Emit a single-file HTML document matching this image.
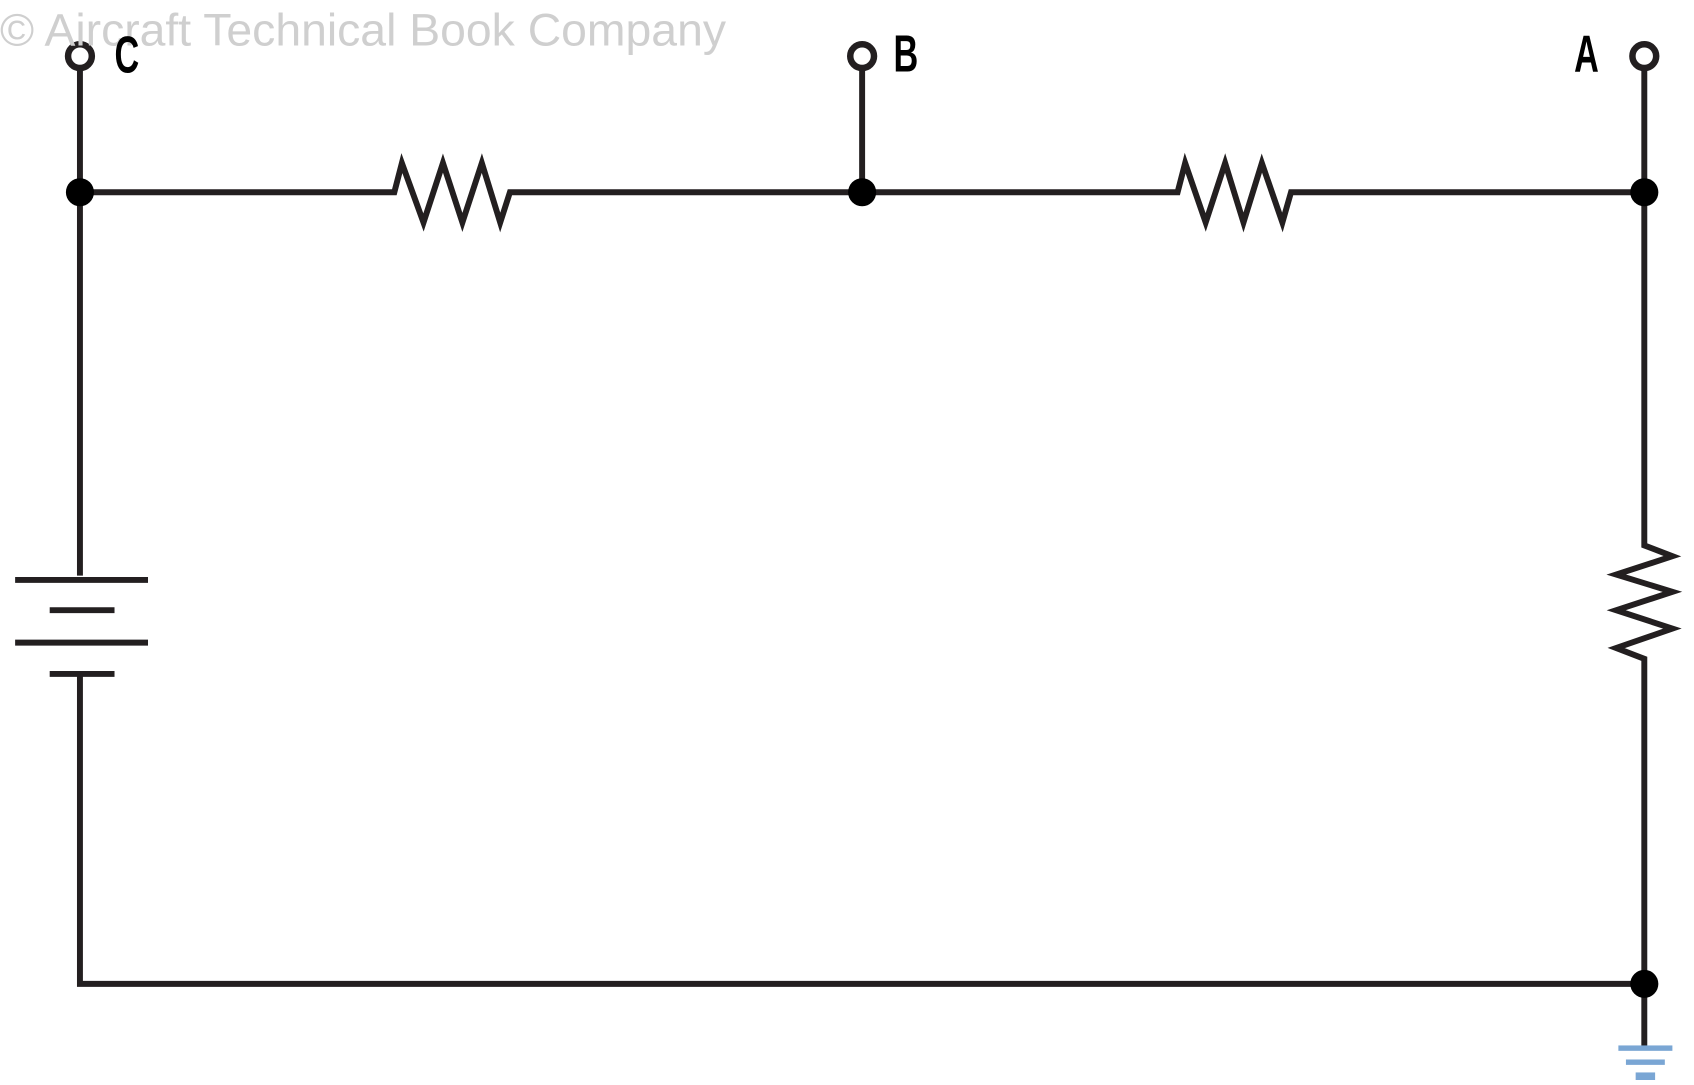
<!DOCTYPE html>
<html><head><style>html,body{margin:0;padding:0;background:#fff;overflow:hidden}</style></head>
<body>
<svg width="1694" height="1080" viewBox="0 0 1568 1000" preserveAspectRatio="none" xmlns="http://www.w3.org/2000/svg">
<g fill="none" stroke="#231f20" stroke-width="5.5" stroke-linejoin="miter" stroke-miterlimit="10">
<polyline points="74,60 74,533"/>
<polyline points="74,178 365,178 372,151 392,206 410,151 428,206 446,151 463,206 472,178 1090,178 1097,151 1116,206 1134,151 1151,206 1168,151 1187,206 1195,178 1522,178"/>
<polyline points="798,60 798,178"/>
<polyline points="1522,60 1522,505 1548,515 1496,532 1548,548 1496,565 1548,582 1496,600 1522,610 1522,968"/>
<polyline points="74,624 74,911 1522,911"/>
<line x1="14" y1="537" x2="137" y2="537"/>
<line x1="46" y1="565" x2="106" y2="565"/>
<line x1="14" y1="595" x2="137" y2="595"/>
<line x1="46" y1="624" x2="106" y2="624"/>
</g>
<g fill="#fff" stroke="#231f20" stroke-width="6">
<circle cx="74" cy="52" r="11"/>
<circle cx="798" cy="52" r="11"/>
<circle cx="1522" cy="52" r="11"/>
</g>
<g fill="#000">
<circle cx="74" cy="178" r="13"/>
<circle cx="798" cy="178" r="13"/>
<circle cx="1522" cy="178" r="13"/>
<circle cx="1522" cy="911" r="13"/>
</g>
<g fill="#7aa6d4">
<rect x="1498" y="968" width="50" height="5"/>
<rect x="1505" y="981" width="36" height="5"/>
<rect x="1514" y="993" width="18" height="7"/>
</g>
<text x="0" y="42" font-family="Liberation Sans, sans-serif" font-size="42" fill="#cfcfcf" textLength="672" lengthAdjust="spacingAndGlyphs">© Aircraft Technical Book Company</text>
<g font-family="Liberation Sans, sans-serif" font-weight="bold" font-size="48" fill="#000">
<text transform="translate(106,67) scale(0.66,1)">C</text>
<text transform="translate(827,66) scale(0.66,1)">B</text>
<text transform="translate(1457,66) scale(0.66,1)">A</text>
</g>
</svg>
</body></html>
